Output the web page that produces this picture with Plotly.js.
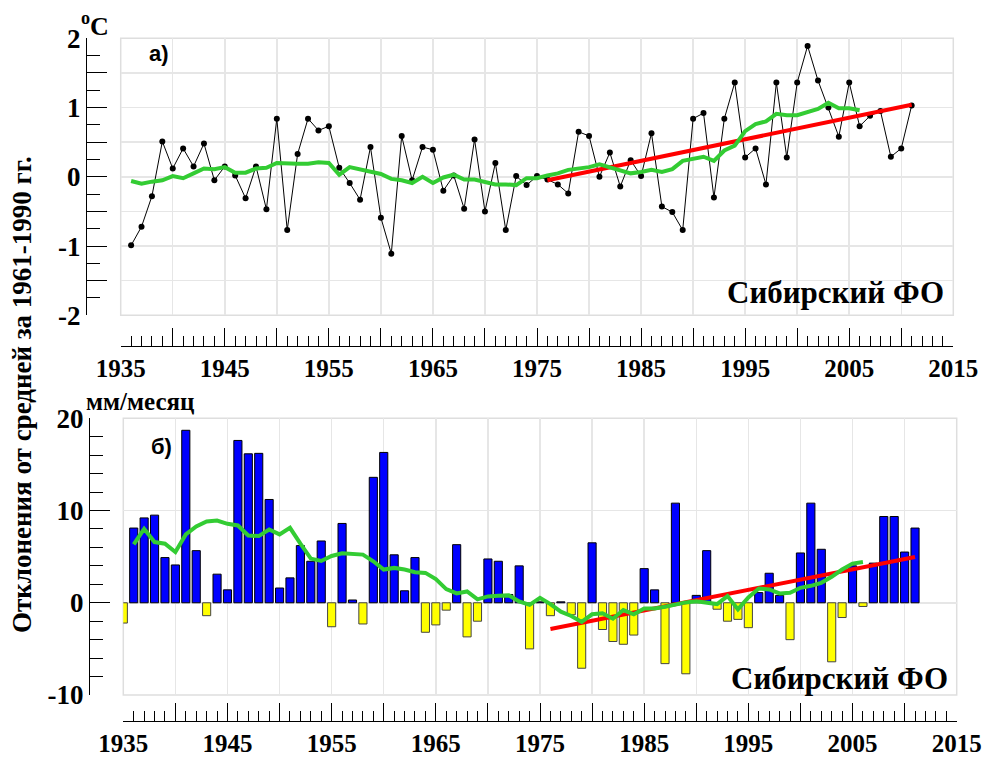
<!DOCTYPE html>
<html><head><meta charset="utf-8">
<script src="https://cdn.plot.ly/plotly-3.0.1.min.js"></script>
<style>html,body{margin:0;padding:0;background:#fff}#chart{width:985px;height:763px}</style>
</head><body><div id="chart"></div>
<script>
// ---------- DATA ----------
const tempYears = [1936,1937,1938,1939,1940,1941,1942,1943,1944,1945,1946,1947,1948,1949,1950,1951,1952,1953,1954,1955,
  1956,1957,1958,1959,1960,1961,1962,1963,1964,1965,1966,1967,1968,1969,1970,1971,1972,1973,1974,1975,
  1976,1977,1978,1979,1980,1981,1982,1983,1984,1985,1986,1987,1988,1989,1990,1991,1992,1993,1994,1995,
  1996,1997,1998,1999,2000,2001,2002,2003,2004,2005,2006,2007,2008,2009,2010,2011];
const tempAnom = [-0.99,-0.72,-0.28,0.51,0.12,0.41,0.15,0.48,-0.05,0.15,
  0.02,-0.31,0.15,-0.47,0.84,-0.77,0.33,0.84,0.67,0.73,
  0.13,-0.09,-0.33,0.43,-0.59,-1.11,0.59,-0.05,0.43,0.39,
  -0.20,0.02,-0.46,0.54,-0.50,0.20,-0.77,0.01,-0.12,0.01,
  -0.04,-0.11,-0.24,0.65,0.59,0.00,0.35,-0.14,0.24,0.01,
  0.63,-0.43,-0.51,-0.77,0.84,0.92,-0.30,0.84,1.36,0.28,
  0.41,-0.11,1.36,0.28,1.36,1.89,1.39,1.00,0.58,1.36,
  0.73,0.88,0.95,0.29,0.41,1.03];
const smoothYears = [1936,1937,1938,1939,1940,1941,1942,1943,1944,1945,1946,1947,1948,1949,1950,1951,1952,1953,1954,1955,
  1956,1957,1958,1959,1960,1961,1962,1963,1964,1965,1966,1967,1968,1969,1970,1971,1972,1973,1974,1975,
  1976,1977,1978,1979,1980,1981,1982,1983,1984,1985,1986,1987,1988,1989,1990,1991,1992,1993,1994,1995,
  1996,1997,1998,1999,2000,2001,2002,2003,2004,2005,2006];
const tempSmooth = [-0.06,-0.10,-0.07,-0.05,0.01,-0.02,0.05,0.12,0.11,0.14,
  0.06,0.06,0.12,0.13,0.20,0.19,0.19,0.19,0.21,0.20,
  0.03,0.14,0.11,0.07,0.04,-0.03,-0.05,-0.09,0.00,-0.09,
  -0.01,0.03,-0.04,-0.04,-0.08,-0.11,-0.11,-0.12,-0.02,-0.02,
  0.02,0.05,0.10,0.12,0.14,0.18,0.14,0.10,0.05,0.07,
  0.10,0.07,0.11,0.23,0.26,0.29,0.23,0.38,0.45,0.66,
  0.76,0.80,0.91,0.89,0.89,0.93,0.98,1.07,0.99,0.99,0.96];
const trendYears = [1976, 2011];
const tempTrend = [-0.05, 1.04];

const precYears = [1935,1936,1937,1938,1939,1940,1941,1942,1943,1944,1945,1946,1947,1948,1949,1950,1951,1952,1953,1954,
  1955,1956,1957,1958,1959,1960,1961,1962,1963,1964,1965,1966,1967,1968,1969,1970,1971,1972,1973,1974,
  1975,1976,1977,1978,1979,1980,1981,1982,1983,1984,1985,1986,1987,1988,1989,1990,1991,1992,1993,1994,
  1995,1996,1997,1998,1999,2000,2001,2002,2003,2004,2005,2006,2007,2008,2009,2010,2011];
const precAnom = [-2.2,8.1,9.2,9.5,4.9,4.1,18.7,5.65,-1.4,3.1,
  1.4,17.6,16.15,16.2,11.2,1.6,2.7,6.2,4.5,6.7,
  -2.6,8.6,0.3,-2.3,13.6,16.3,5.2,1.3,4.9,-3.2,
  -2.4,-0.8,6.3,-3.7,-2.0,4.75,4.5,0.9,4.0,-5.0,
  0.1,-1.4,0.1,-1.3,-7.1,6.5,-2.9,-4.2,-4.5,-3.5,
  3.7,1.4,-6.6,10.8,-7.7,0.8,5.65,-0.7,-2.0,-1.8,
  -2.7,1.1,3.2,0.8,-4.0,5.4,10.8,5.8,-6.4,-1.6,
  4.0,-0.4,4.3,9.35,9.35,5.5,8.1];
const precSmooth = [6.33,8.02,6.58,6.41,5.50,7.41,8.27,8.81,8.92,8.56,
  8.38,7.30,7.23,7.95,7.41,8.13,6.41,4.79,4.53,5.07,
  5.36,5.29,5.22,4.50,3.60,3.78,3.60,3.31,3.24,2.56,
  1.48,1.01,1.23,0.37,0.69,0.76,0.80,0.15,-0.22,0.54,
  -0.14,-0.97,-1.43,-2.08,-1.25,-1.14,-1.73,-0.79,-1.25,-0.61,
  -0.61,-0.43,-0.14,0.04,0.15,0.00,-0.14,0.72,-0.72,0.58,
  1.55,1.44,1.01,1.08,1.62,1.84,2.16,2.81,3.60,4.25,4.42];
const precTrend = [-2.85, 4.97];

const xTickVals = [1935,1940,1945,1950,1955,1960,1965,1970,1975,1980,1985,1990,1995,2000,2005,2010,2015];
const xTickText = ['1935',' ','1945',' ','1955',' ','1965',' ','1975',' ','1985',' ','1995',' ','2005',' ','2015'];
const yTopTickVals = [-2,-1.5,-1,-0.5,0,0.5,1,1.5,2];
const yTopTickText = ['-2',' ','-1',' ','0',' ','1',' ','2'];
const yBotTickVals = [-10,0,10,20];
const yBotTickText = ['-10','0','10','20'];

// ---------- STYLE ----------
const W = 985, H = 763;
const px = x => x / W, py = y => 1 - y / H;
const SERIF = 'Liberation Serif, Times New Roman, serif';
const GRID = '#e6e6e6';
const GREEN = '#33cc33', RED = '#ff0000';
const bold = a => a.map(t => t.trim() ? '<b>' + t + '</b>' : t);

const traces = [
  {x: tempYears, y: tempAnom, type: 'scatter', mode: 'lines+markers', xaxis: 'x', yaxis: 'y',
   line: {color: '#000', width: 1}, marker: {color: '#000', size: 6}},
  {x: trendYears, y: tempTrend, type: 'scatter', mode: 'lines', xaxis: 'x', yaxis: 'y',
   line: {color: RED, width: 4}},
  {x: smoothYears, y: tempSmooth, type: 'scatter', mode: 'lines', xaxis: 'x', yaxis: 'y',
   line: {color: GREEN, width: 4}},
  {x: precYears, y: precAnom, type: 'bar', xaxis: 'x2', yaxis: 'y2', width: 0.78,
   marker: {color: precAnom.map(v => v >= 0 ? '#0000ff' : '#ffff00'),
            line: {color: precAnom.map(v => v >= 0 ? '#000000' : '#444444'), width: 1}}},
  {x: trendYears, y: precTrend, type: 'scatter', mode: 'lines', xaxis: 'x2', yaxis: 'y2',
   line: {color: RED, width: 4}},
  {x: smoothYears, y: precSmooth, type: 'scatter', mode: 'lines', xaxis: 'x2', yaxis: 'y2',
   line: {color: GREEN, width: 4}}
];

function xAx(dom, pos) {
  return {domain: dom, range: [1935, 2015], anchor: 'free', position: pos,
    tickmode: 'array', tickvals: xTickVals, ticktext: bold(xTickText),
    ticks: 'inside', ticklen: 18, tickwidth: 1, tickcolor: '#000',
    showline: true, linecolor: '#000', linewidth: 1,
    showgrid: true, gridcolor: GRID, gridwidth: 1.5, zeroline: false,
    ticklabelstandoff: 0,
    tickfont: {family: SERIF, size: 25, weight: 'bold', color: '#000'},
    minor: {tickmode: 'linear', tick0: 1935, dtick: 1, ticks: 'inside', ticklen: 10,
            tickwidth: 1, tickcolor: '#000', showgrid: false}};
}
function yAx(dom, pos, range, vals, text, minorDt) {
  return {domain: dom, range: range, anchor: 'free', position: pos,
    tickmode: 'array', tickvals: vals, ticktext: bold(text),
    ticks: 'inside', ticklen: 20, tickwidth: 1, tickcolor: '#000',
    showline: true, linecolor: '#000', linewidth: 1,
    showgrid: true, gridcolor: GRID, gridwidth: 1.5, zeroline: false,
    tickfont: {family: SERIF, size: 27, weight: 'bold', color: '#000'},
    minor: {tickmode: 'linear', tick0: range[0], dtick: minorDt, ticks: 'inside', ticklen: 13,
            tickwidth: 1, tickcolor: '#000', showgrid: false}};
}

const layout = {
  width: W, height: H, margin: {l: 0, r: 0, t: 0, b: 0},
  paper_bgcolor: '#fff', plot_bgcolor: '#fff', showlegend: false, bargap: 0,
  xaxis: xAx([px(120.7), px(953.3)], py(346)),
  yaxis: yAx([py(315.3), py(38.3)], px(86), [-2, 2], yTopTickVals, yTopTickText, 0.25),
  xaxis2: xAx([px(123.3), px(956.7)], py(721)),
  yaxis2: yAx([py(695), py(418.3)], px(89), [-10, 20], yBotTickVals, yBotTickText, 2),
  shapes: [
    {type: 'rect', xref: 'x domain', yref: 'y domain', x0: 0, x1: 1, y0: 0, y1: 1,
     line: {color: '#dedede', width: 1.5}, layer: 'below'},
    {type: 'rect', xref: 'x2 domain', yref: 'y2 domain', x0: 0, x1: 1, y0: 0, y1: 1,
     line: {color: '#dedede', width: 1.5}, layer: 'below'}
  ],
  annotations: [
    {text: '<b><sup>o</sup>C</b>', xref: 'paper', yref: 'paper', x: px(79), y: py(24), xanchor: 'left', yanchor: 'middle',
     showarrow: false, font: {family: SERIF, size: 26, weight: 'bold', color: '#000'}},
    {text: '<b>мм/месяц</b>', xref: 'paper', yref: 'paper', x: px(84), y: py(401), xanchor: 'left', yanchor: 'middle',
     showarrow: false, font: {family: SERIF, size: 25, weight: 'bold', color: '#000'}},
    {text: '<b>Отклонения от средней за 1961-1990 гг.</b>', xref: 'paper', yref: 'paper', x: px(22), y: py(395),
     xanchor: 'center', yanchor: 'middle', textangle: -90, showarrow: false,
     font: {family: SERIF, size: 27, weight: 'bold', color: '#000'}},
    {text: '<b>а)</b>', xref: 'paper', yref: 'paper', x: px(159), y: py(54), xanchor: 'center', yanchor: 'middle',
     showarrow: false, font: {family: 'Liberation Sans, Arial, sans-serif', size: 22, weight: 'bold', color: '#000'}},
    {text: '<b>б)</b>', xref: 'paper', yref: 'paper', x: px(161), y: py(446), xanchor: 'center', yanchor: 'middle',
     showarrow: false, font: {family: 'Liberation Sans, Arial, sans-serif', size: 22, weight: 'bold', color: '#000'}},
    {text: '<b>Сибирский ФО</b>', xref: 'paper', yref: 'paper', x: px(946), y: py(292), xanchor: 'right', yanchor: 'middle',
     showarrow: false, font: {family: SERIF, size: 31, weight: 'bold', color: '#000'}},
    {text: '<b>Сибирский ФО</b>', xref: 'paper', yref: 'paper', x: px(950), y: py(678), xanchor: 'right', yanchor: 'middle',
     showarrow: false, font: {family: SERIF, size: 31, weight: 'bold', color: '#000'}}
  ]
};

Plotly.newPlot('chart', traces, layout, {displayModeBar: false, staticPlot: true});
</script>
</body></html>
